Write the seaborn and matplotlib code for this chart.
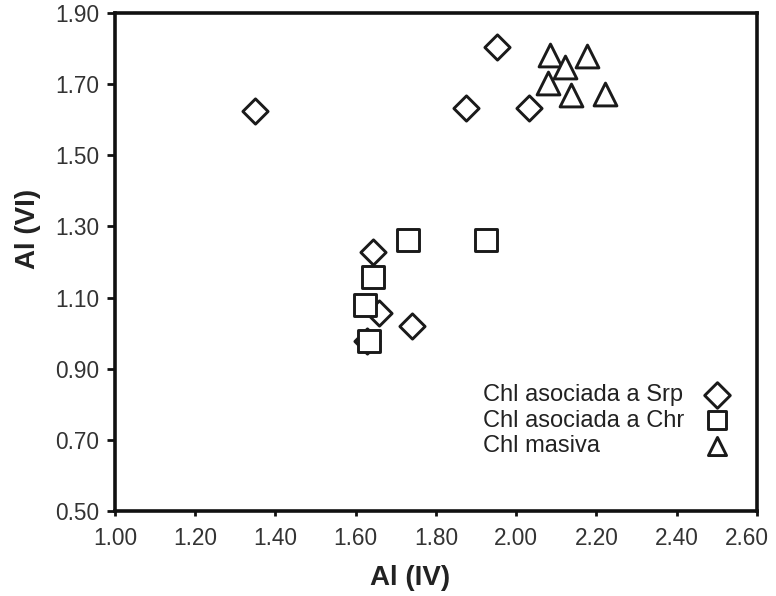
import matplotlib
matplotlib.use("Agg")
import matplotlib.pyplot as plt
import matplotlib.transforms as mtransforms
import seaborn as sns
import pandas as pd

# Data
srp_x = [1.349, 1.951, 1.876, 2.031, 1.644, 1.657, 1.741, 1.627]
srp_y = [1.624, 1.805, 1.633, 1.633, 1.229, 1.056, 1.020, 0.977]
chr_x = [1.731, 1.924, 1.642, 1.622, 1.632]
chr_y = [1.263, 1.263, 1.158, 1.079, 0.977]
mas_x = [2.083, 2.121, 2.176, 2.078, 2.136, 2.221]
mas_y = [1.782, 1.749, 1.780, 1.703, 1.669, 1.672]

labels = ["Chl asociada a Srp", "Chl asociada a Chr", "Chl masiva"]
xticks = [1.00, 1.20, 1.40, 1.60, 1.80, 2.00, 2.20, 2.40, 2.60]
yticks = [0.50, 0.70, 0.90, 1.10, 1.30, 1.50, 1.70, 1.90]

sns.set_theme(style="white")
plt.rcParams['font.family'] = ['Liberation Sans', 'DejaVu Sans']

fig = plt.figure(figsize=(7.76, 5.96), dpi=100)
ax = fig.add_axes([0.1482, 0.1426, 0.8273, 0.8356])

groups = [
    (srp_x, srp_y, labels[0], "D", 165),
    (chr_x, chr_y, labels[1], "s", 240),
    (mas_x, mas_y, labels[2], "^", 270),
]
for gx, gy, lab, mk, sz in groups:
    df = pd.DataFrame({"x": gx, "y": gy})
    sns.scatterplot(data=df, x="x", y="y", ax=ax, marker=mk, s=sz,
                    color="white", edgecolor="#1a1a1a", linewidth=2.1,
                    label=lab, zorder=3)

ax.set_xlim(1.00, 2.60)
ax.set_ylim(0.50, 1.90)
ax.set_xticks(xticks)
ax.set_yticks(yticks)
ax.set_xticklabels([f"{v:.2f}" for v in xticks], fontsize=16.3, color="#333333")
ax.set_yticklabels([f"{v:.2f}" for v in yticks], fontsize=16.3, color="#333333")
ax.tick_params(axis="x", direction="out", length=3.5, width=2,
               color="#111111", bottom=True, pad=8)
ax.tick_params(axis="y", direction="out", length=5.5, width=2,
               color="#111111", left=True, pad=6)
for sp in ax.spines.values():
    sp.set_linewidth(2.6)
    sp.set_color("#111111")

# keep last x tick label inside the figure
last = ax.get_xticklabels()[-1]
last.set_transform(last.get_transform() +
                   mtransforms.ScaledTranslation(-10 / 100, 0, fig.dpi_scale_trans))

ax.set_xlabel("Al (IV)", fontsize=20, fontweight="bold", color="#222222")
ax.set_ylabel("Al (VI)", fontsize=20, fontweight="bold", color="#222222")
ax.xaxis.set_label_coords(0.4595, -0.108)
ax.yaxis.set_label_coords(-0.116, 0.566)

leg = ax.legend(loc="lower right", bbox_to_anchor=(0.985, 0.075), frameon=False,
                markerfirst=False, fontsize=17, handletextpad=0.6,
                labelspacing=0.15, borderaxespad=0.3, handlelength=1.2)
for h in leg.legend_handles:
    h.set_sizes([170])
for t in leg.get_texts():
    t.set_color("#222222")

# left-align legend texts with markers in a common right column
try:
    col = leg._legend_handle_box.get_children()[0]
    for item in col.get_children():
        item.mode = "expand"
        item.width = 248
    col.align = "left"
except Exception:
    pass

fig.savefig("out.png", dpi=100)
